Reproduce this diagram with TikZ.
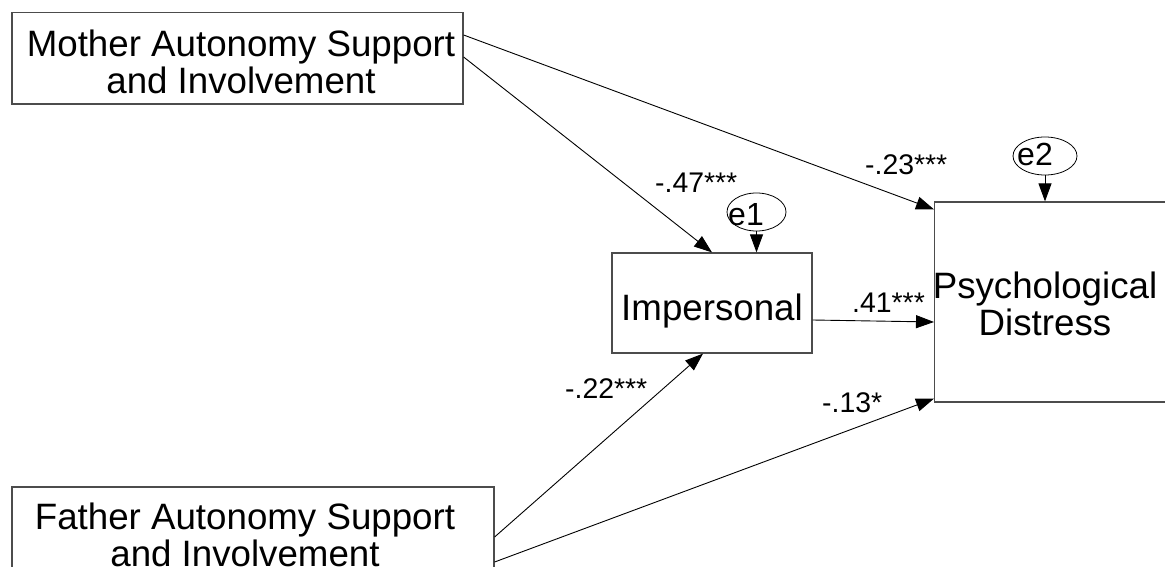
\documentclass[tikz,border=0pt]{standalone}
\usepackage{fontspec}
\setmainfont{Liberation Sans}
\usetikzlibrary{arrows.meta,shapes.geometric}
% keep the tight line spacing of two-line labels exact
\lineskiplimit=-100pt

\begin{document}
\begin{tikzpicture}[x=1pt,y=-1pt,
  box/.style={draw=black!70, line width=1.2pt, inner sep=0pt, align=center, text depth=0pt},
  boxfont/.style={font=\fontsize{36.7}{36.7}\selectfont},
  err/.style={draw, ellipse, line width=0.8pt, inner sep=0pt, minimum height=38pt},
  etext/.style={font=\fontsize{32}{36}\selectfont, inner sep=0pt, anchor=base},
  coef/.style={font=\fontsize{28.4}{34}\selectfont, inner sep=0pt, anchor=base west},
  path/.style={-{Triangle[length=18pt,width=13pt]}, line width=0.9pt}]
\clip (0,0) rectangle (1165,567);
\fill[white] (0,0) rectangle (1165,567);

% observed variables
\node[box, boxfont, minimum width=451pt, minimum height=91.3pt, text height=69.9pt]
  (mother) at (237.5,58.35) {\hspace*{7pt}Mother Autonomy Support\\\hspace*{7pt}and Involvement};
\node[box, boxfont, minimum width=482pt, minimum height=91.3pt, text height=66.7pt]
  (father) at (253,532.65) {Father Autonomy Support\hspace*{16pt}\\and Involvement\hspace*{16pt}};
\node[box, boxfont, minimum width=200pt, minimum height=100pt, text height=34pt]
  (imp) at (712,303) {Impersonal};
\node[box, minimum width=260pt, minimum height=200pt, anchor=west]
  (psych) at (934,302) {};
\node[boxfont, align=center, inner sep=0pt, text height=66pt, text depth=0pt]
  (psychtext) at (1045,302) {Psychological\\Distress};

% error terms
\node[err, minimum width=59pt] (e1) at (756.5,212) {};
\node[err, minimum width=64pt] (e2) at (1045,156) {};
\node[etext] (e1lab) at (746,225) {e1};
\node[etext] (e2lab) at (1035,165) {e2};

% paths
\draw[path] ([yshift=23.35pt]mother.east) -- ([yshift=-8pt]psych.north west);
\draw[path] ([yshift=1.35pt]mother.east) -- (imp.north);
\draw[path] ([yshift=-17pt]imp.east) -- ([yshift=-20pt]psych.west);
\draw[path] ([yshift=-4.35pt]father.east) -- ([xshift=-9pt]imp.south);
\draw[path] ([yshift=-29.35pt]father.east) -- ([yshift=4pt]psych.south west);
\draw[path] (e1.south) -- (e1.south |- imp.north);
\draw[path] (e2.south) -- (e2.south |- psych.north);

% path coefficients
\node[coef] (c1) at (655,193) {-.47***};
\node[coef] (c2) at (865,175) {-.23***};
\node[coef] (c3) at (852,312) {.41***};
\node[coef] (c4) at (565,398) {-.22***};
\node[coef] (c5) at (822,412) {-.13*};
\end{tikzpicture}
\end{document}
